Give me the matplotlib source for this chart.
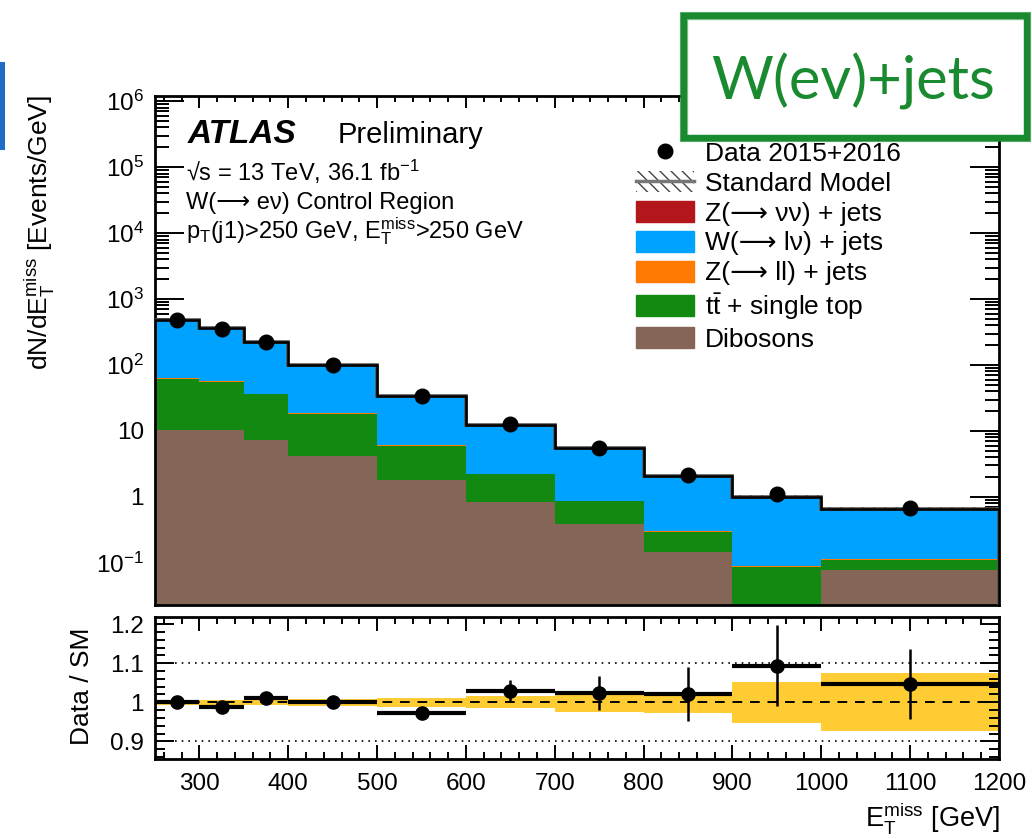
import matplotlib
matplotlib.use("Agg")
import matplotlib.pyplot as plt
import numpy as np
from matplotlib.lines import Line2D
from matplotlib.patches import Patch, Rectangle
from matplotlib.ticker import FixedLocator, MultipleLocator, FuncFormatter, NullFormatter

plt.rcParams["font.family"] = ["Liberation Sans", "DejaVu Sans"]
plt.rcParams["mathtext.fontset"] = "custom"
plt.rcParams["mathtext.rm"] = "Liberation Sans"
plt.rcParams["mathtext.it"] = "Liberation Sans:italic"
plt.rcParams["mathtext.bf"] = "Liberation Sans:bold"
plt.rcParams["hatch.linewidth"] = 1.0

# binning in MET [GeV]
edges = [250, 300, 350, 400, 500, 600, 700, 800, 900, 1000, 1200]

# background components, dN/dMET [Events/GeV], stacked bottom -> top
dibosons = [10.4, 10.2, 7.2, 4.2, 1.8, 0.85, 0.39, 0.147, 0.01, 0.078]
ttbar = [51.6, 44.8, 28.8, 13.8, 4.2, 1.35, 0.47, 0.148, 0.078, 0.032]
zll = [1.5, 1.3, 0.9, 0.45, 0.15, 0.05, 0.02, 0.008, 0.003, 0.003]
wlv = [426.0, 303.0, 184.0, 81.5, 28.3, 10.0, 4.57, 1.8, 0.91, 0.536]
znn = [0.3, 0.2, 0.1, 0.05, 0.02, 0.01, 0.004, 0.002, 0.001, 0.001]

data = [490.0, 355.0, 224.0, 100.0, 33.5, 12.6, 5.6, 2.15, 1.1, 0.68]

# lower panel
ratio = [1.0, 0.987, 1.01, 1.0, 0.972, 1.028, 1.024, 1.021, 1.094, 1.047]
ratio_err = [0.004, 0.005, 0.008, 0.006, 0.01, 0.028, 0.043, 0.068, 0.104, 0.089]
sm_unc = [0.007, 0.007, 0.008, 0.009, 0.011, 0.015, 0.024, 0.027, 0.053, 0.074]

# axis ticks
main_yticks = [1e-1, 1, 10, 1e2, 1e3, 1e4, 1e5, 1e6]
ratio_yticks = [0.9, 1.0, 1.1, 1.2]

labels = ["Z(\u27f6 \u03bd\u03bd) + jets", "W(\u27f6 l\u03bd) + jets",
          "Z(\u27f6 ll) + jets", r"$\mathrm{t\bar{t}}$ + single top", "Dibosons"]
colors = {"znn": "#b3161b", "wlv": "#00a2ff", "zll": "#ff7a00",
          "ttbar": "#128a12", "dibosons": "#856656"}
GREEN = "#1a8a30"

W, H = 1032, 839
fig = plt.figure(figsize=(W / 100, H / 100), dpi=100)


def fx(px):
    return px / W


def fy(py):
    return 1 - py / H


ax = fig.add_axes([fx(155), fy(605), fx(999) - fx(155), fy(96) - fy(605)])
ax2 = fig.add_axes([fx(155), fy(759), fx(999) - fx(155), fy(617) - fy(759)])

edges_a = np.array(edges, dtype=float)
centers = 0.5 * (edges_a[1:] + edges_a[:-1])

# stacked histogram
stack = [("dibosons", dibosons), ("ttbar", ttbar), ("zll", zll), ("wlv", wlv), ("znn", znn)]
bottom = np.full(len(dibosons), 1e-4)
for key, vals in stack:
    top = bottom + np.array(vals)
    ax.stairs(top, edges_a, baseline=bottom, fill=True, color=colors[key], lw=0, zorder=2)
    bottom = top
sm = bottom
unc = np.array(sm_unc)
ax.stairs(sm * (1 + unc), edges_a, baseline=sm * (1 - unc), fill=True, facecolor="none",
          edgecolor="#444444", hatch="\\\\\\", lw=0, zorder=3)
ax.stairs(sm, edges_a, color="#555555", lw=2.6, zorder=3)
ax.stairs(sm, edges_a, color="k", lw=1.8, zorder=4)
ax.plot(centers, data, "o", color="k", ms=10.5, zorder=5)

ax.set_yscale("log")
ax.set_ylim(0.023, 1.2e6)
ax.set_xlim(250, 1200)


def log_fmt(v, pos):
    e = int(round(np.log10(v)))
    if e == 0:
        return "1"
    if e == 1:
        return "10"
    return r"$10^{%d}$" % e


minor_y = [m * t for t in [0.01] + main_yticks for m in range(2, 10)]
minor_y = [v for v in minor_y if 0.023 <= v <= 1.2e6]
ax.yaxis.set_major_locator(FixedLocator(main_yticks))
ax.yaxis.set_minor_locator(FixedLocator(minor_y))
ax.yaxis.set_major_formatter(FuncFormatter(log_fmt))
ax.yaxis.set_minor_formatter(NullFormatter())
ax.xaxis.set_major_locator(MultipleLocator(100))
ax.xaxis.set_minor_locator(MultipleLocator(20))

for a in (ax, ax2):
    a.tick_params(which="both", direction="in", top=True, right=True, width=1.4,
                  labelsize=17.5)
    for s in a.spines.values():
        s.set_linewidth(2.0)
ax.tick_params(axis="x", labelbottom=False)
ax.tick_params(axis="x", which="major", length=8.5)
ax.tick_params(axis="x", which="minor", length=4.3)
ax.tick_params(axis="y", which="major", length=21, pad=8)
ax.tick_params(axis="y", which="minor", length=10)

# ratio panel
ax2.stairs(1 + unc, edges_a, baseline=1 - unc, fill=True, color="#ffcc33", lw=0, zorder=1)
ax2.axhline(1.0, color="k", lw=1.4, ls=(0, (5, 4)), zorder=2)
for lvl in (0.9, 1.1):
    ax2.axhline(lvl, color="k", lw=1.2, ls=(0, (1, 3)), zorder=2)
ax2.hlines(ratio, edges_a[:-1], edges_a[1:], color="k", lw=3.0, zorder=3)
ax2.errorbar(centers, ratio, yerr=ratio_err, fmt="o", color="k", ms=9.5,
             elinewidth=1.8, capsize=0, zorder=4)
ax2.set_xlim(250, 1200)
ax2.set_ylim(0.855, 1.218)
ax2.yaxis.set_major_locator(FixedLocator(ratio_yticks))
ax2.yaxis.set_minor_locator(MultipleLocator(0.02))
ax2.yaxis.set_major_formatter(FuncFormatter(lambda v, p: "%g" % v))
ax2.xaxis.set_major_locator(MultipleLocator(100))
ax2.xaxis.set_minor_locator(MultipleLocator(20))
ax2.tick_params(axis="x", which="major", length=10, pad=10)
ax2.tick_params(axis="x", which="minor", length=5)
ax2.tick_params(axis="y", which="major", length=14, pad=8)
ax2.tick_params(axis="y", which="minor", length=7)

# axis titles
fig.text(fx(40), fy(95), r"dN/dE$_{\mathrm{T}}^{\mathrm{miss}}$ [Events/GeV]", rotation=90,
         ha="center", va="top", fontsize=19)
fig.text(fx(82), fy(686), "Data / SM", rotation=90, ha="center", va="center", fontsize=19)
fig.text(fx(1000), fy(818), r"E$_{\mathrm{T}}^{\mathrm{miss}}$ [GeV]", ha="right",
         va="center", fontsize=19.5)

# ATLAS labels
fig.text(fx(188), fy(143), "ATLAS", fontsize=24, fontweight="bold", fontstyle="italic",
         va="baseline")
fig.text(fx(338), fy(143), "Preliminary", fontsize=21, va="baseline")
fig.text(fx(186), fy(181), "\u221as = 13 TeV, 36.1 fb$^{-1}$", fontsize=17, va="baseline")
fig.text(fx(186), fy(209), "W(\u27f6 e\u03bd) Control Region", fontsize=17, va="baseline")
fig.text(fx(186), fy(238), r"p$_{\mathrm{T}}$(j1)>250 GeV, E$_{\mathrm{T}}^{\mathrm{miss}}$>250 GeV",
         fontsize=17, va="baseline")

# legend
handles = [Line2D([], [], marker="o", color="k", ls="none", ms=10.5),
           (Patch(facecolor="white", edgecolor="#444444", hatch="\\\\\\", lw=0),
            Line2D([], [], color="#777777", lw=2.5))]
for key in ("znn", "wlv", "zll", "ttbar", "dibosons"):
    handles.append(Patch(facecolor=colors[key], edgecolor=colors[key]))
leg = ax.legend(handles, ["Data 2015+2016", "Standard Model"] + labels,
                loc="upper left", bbox_to_anchor=((636 - 155) / 844, (605 - 141) / 509),
                frameon=False, fontsize=19, borderpad=0, borderaxespad=0,
                handlelength=2.2, handleheight=0.85, handletextpad=0.42, labelspacing=0.2)
leg.set_zorder(6)

# decorative title box and stray blue edge
fig.add_artist(Rectangle((fx(684), fy(138)), fx(1027) - fx(684), fy(16) - fy(138),
                         transform=fig.transFigure, facecolor="white", edgecolor=GREEN,
                         lw=4.5, zorder=10))
fig.add_artist(Rectangle((fx(681), fy(141)), fx(1030) - fx(681), fy(13) - fy(141),
                         transform=fig.transFigure, facecolor="none", edgecolor=GREEN,
                         lw=1.5, alpha=0.7, zorder=10))
fig.add_artist(Rectangle((fx(687), fy(135)), fx(1024) - fx(687), fy(19) - fy(135),
                         transform=fig.transFigure, facecolor="none", edgecolor=GREEN,
                         lw=1.0, alpha=0.5, zorder=10))
fig.text(fx(853), fy(100), "W(ev)+jets", color=GREEN, fontsize=43, family="Lato",
         ha="center", va="baseline", zorder=11)
fig.add_artist(Rectangle((0, fy(150)), fx(5), fy(62) - fy(150), transform=fig.transFigure,
                         facecolor="#1e6cc8", edgecolor="none", zorder=10))

fig.savefig("out.png", dpi=100)
